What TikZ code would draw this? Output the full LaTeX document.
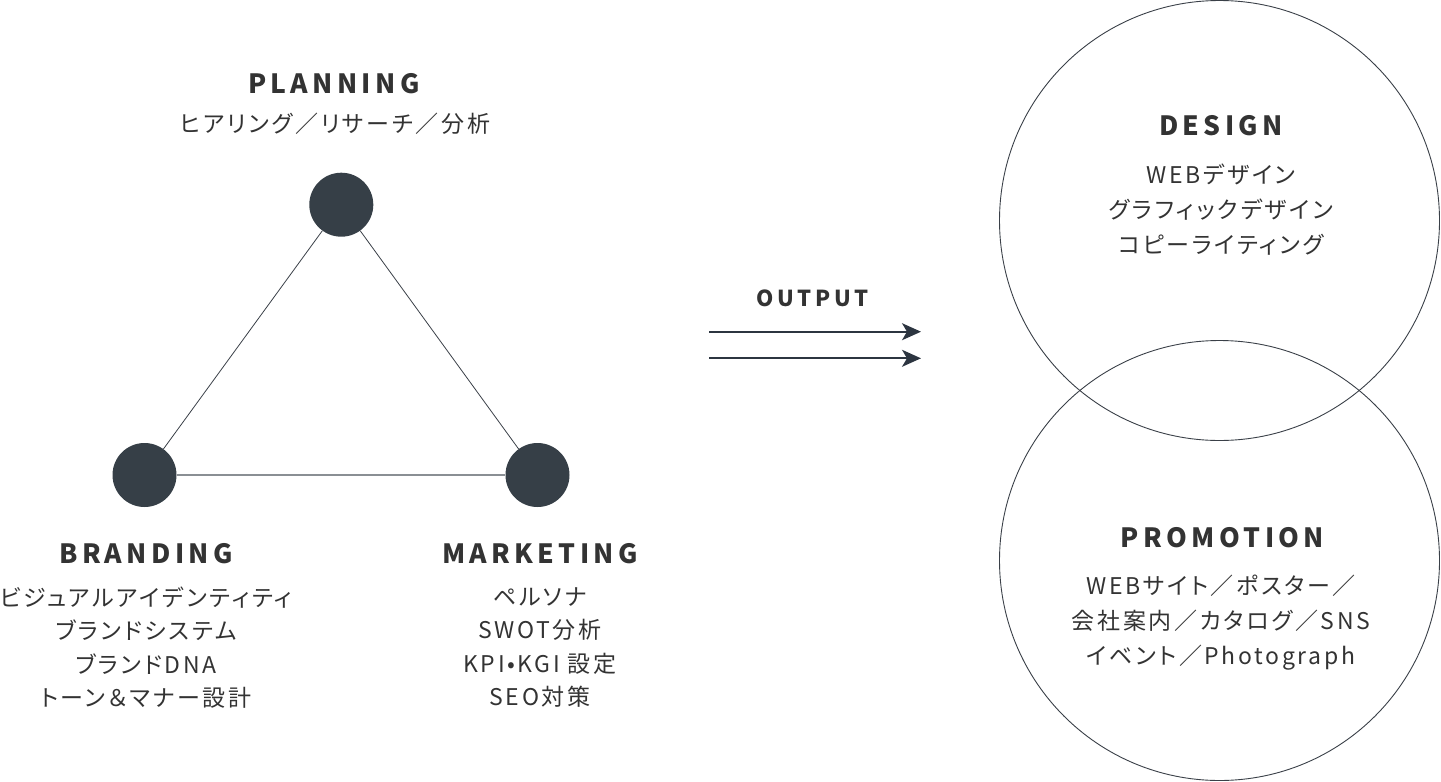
\documentclass[tikz,border=0pt]{standalone}
\usepackage{fontspec}
\setmainfont{Noto Sans CJK JP}[RawFeature=+palt, LetterSpace=11.5]
\newfontfamily\headfont{Noto Sans CJK JP}[LetterSpace=16.5]
\usetikzlibrary{arrows.meta}
\definecolor{dotc}{HTML}{363F47}
\definecolor{txt}{HTML}{333333}
\definecolor{edgec}{HTML}{3A4048}
\definecolor{edgeg}{HTML}{8A8F94}
\definecolor{arrc}{HTML}{2C3540}
\tikzset{
  dot/.style={circle, fill=dotc, minimum size=64pt, inner sep=0pt},
  edge/.style={draw=edgec, line width=0.8pt},
  edgegray/.style={draw=edgeg, line width=1.6pt},
  bigcirc/.style={circle, draw=edgec, line width=0.9pt, minimum size=440pt, inner sep=0pt},
  head/.style={text=txt, font=\headfont\bfseries\fontsize{26.5}{30}\selectfont, inner sep=0pt},
  body/.style={text=txt, font=\fontsize{23}{33.4}\selectfont, align=center, inner sep=0pt},
  bodyr/.style={text=txt, font=\fontsize{23}{35.3}\selectfont, align=center, inner sep=0pt},
  outarrow/.style={draw=arrc, line width=1.7pt, -{Stealth[length=19pt,width=17pt,inset=5pt]}}
}
\begin{document}
\begin{tikzpicture}[x=1pt,y=-1pt]
\useasboundingbox (0,0) rectangle (1441,782);
% big circles
\node[bigcirc] (design) at (1219.5,220.5) {};
\node[bigcirc] (promo) at (1219.5,560.5) {};
% dots
\node[dot] (p) at (341.3,204.7) {};
\node[dot] (b) at (144.5,475) {};
\node[dot] (m) at (537.5,475) {};
\draw[edge] (p) -- (b);
\draw[edge] (p) -- (m);
\draw[edgegray] (b) -- (m);
% planning
\node[head] (ptitle) at (334,83.5) {PLANNING};
\node[body] (psub) at (335,124) {ヒアリング／リサーチ／分析};
% branding
\node[head] (btitle) at (146,554) {BRANDING};
\node[body, anchor=north] (bsub) at (146,586.5) {ビジュアルアイデンティティ\\ブランドシステム\\ブランドDNA\\トーン＆マナー設計};
% marketing
\node[head] (mtitle) at (540,554) {MARKETING};
\node[body, anchor=north] (msub) at (540,587.5) {ペルソナ\\SWOT分析\\KPI•KGI 設定\\SEO対策};
% output
\node[head, font=\headfont\bfseries\fontsize{22}{26}\selectfont] (out) at (812.5,298.5) {OUTPUT};
\coordinate (a1s) at (709,331.7);
\coordinate (a1e) at (921,331.7);
\coordinate (a2s) at (709,358.3);
\coordinate (a2e) at (921,358.3);
\draw[outarrow] (a1s) -- (a1e);
\draw[outarrow] (a2s) -- (a2e);
% design
\node[head] (dtitle) at (1221,126) {DESIGN};
\node[bodyr, anchor=north] (dsub) at (1221,163.5) {WEBデザイン\\グラフィックデザイン\\コピーライティング};
% promotion
\node[head] (prtitle) at (1222.5,537.5) {PROMOTION};
\node[bodyr, anchor=north] (prsub) at (1221,574.5) {WEBサイト／ポスター／\\会社案内／カタログ／SNS\\イベント／Photograph};
\end{tikzpicture}
\end{document}
